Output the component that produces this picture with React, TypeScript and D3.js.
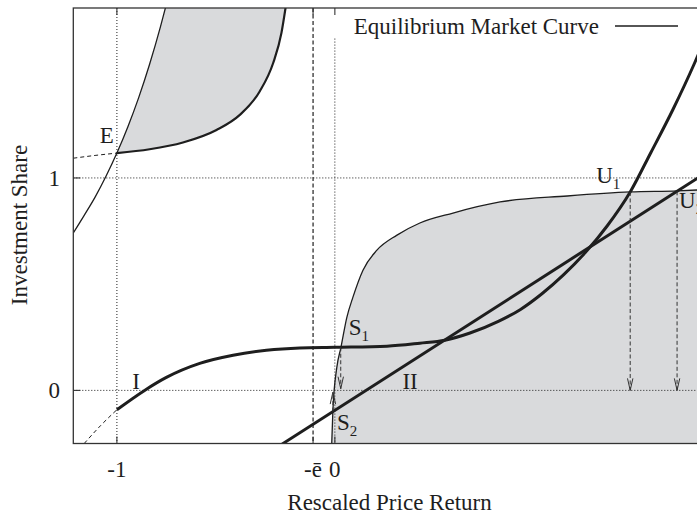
import React from "react";
import * as d3 from "d3";

// ---- data ----
const xTickValues = [-1, -0.1, 0];
const xTickLabels = ["-1", "-ē", "0"];
const yTickValues = [0, 1];
const yTickLabels = ["0", "1"];

// Equilibrium Market Curve, left branch
const emcLeftX = [-1.2, -1.15, -1.1, -1.05, -1.0, -0.95, -0.9, -0.85, -0.8, -0.777];
const emcLeftY = [0.741, 0.824, 0.91, 1.008, 1.117, 1.24, 1.378, 1.535, 1.712, 1.802];
// Equilibrium Market Curve, right branch
const emcRightX = [-0.016, -0.009, 0.009, 0.028, 0.055, 0.083, 0.129, 0.193, 0.285, 0.39, 0.542, 0.758, 1.066, 1.355, 1.571, 1.7];
const emcRightY = [-0.3, -0.094, 0.108, 0.203, 0.344, 0.439, 0.566, 0.66, 0.731, 0.788, 0.835, 0.887, 0.915, 0.934, 0.939, 0.945];
// upper curve through E
const upperX = [-1.0, -0.85, -0.697, -0.543, -0.436, -0.345, -0.283, -0.245, -0.226];
const upperY = [1.117, 1.135, 1.167, 1.226, 1.297, 1.407, 1.541, 1.683, 1.802];
const upperDashX = [-1.2, -1.1, -1.0];
const upperDashY = [1.093, 1.106, 1.117];
// investment function I
const curveIX = [-1.0, -0.873, -0.773, -0.62, -0.467, -0.314, -0.161, 0, 0.239, 0.39, 0.505, 0.62, 0.75, 0.85, 0.95, 1.05, 1.15, 1.25, 1.355, 1.45, 1.55, 1.65, 1.7];
const curveIY = [-0.091, 0, 0.061, 0.127, 0.165, 0.189, 0.2, 0.203, 0.208, 0.222, 0.236, 0.27, 0.325, 0.38, 0.455, 0.545, 0.65, 0.775, 0.934, 1.12, 1.32, 1.54, 1.66];
const curveIDashX = [-1.15, -1.075, -1.0];
const curveIDashY = [-0.25, -0.166, -0.091];
// investment function II (straight line)
const lineIIX = [-0.25, 1.7];
const lineIIY = [-0.258, 1.023];
// equilibrium points: S1, U1, U2, S2
const eqNames = ["S1", "U1", "U2", "S2"];
const eqX = [0.027, 1.355, 1.57, -0.009];
const eqY = [0.203, 0.934, 0.937, -0.1];
const arrowTipY = [0.008, 0, 0, -0.008];
const pointE = [-1.0, 1.117];
const eBar = -0.1;
const zeroLineTop = 1.656;

const W = 697;
const H = 516;
const L = 73.3, R = 705.4, T = 8, B = 443.5;
const FONT = "'Liberation Serif', 'Times New Roman', serif";
const INK = "#1e1e1e";
const GRAY = "#d9dadc";

export default function App() {
  const x = d3.scaleLinear().domain([-1.2, 1.7]).range([L, R]);
  const y = d3.scaleLinear().domain([-0.25, 1.8]).range([B, T]);
  const zip = (xs: number[], ys: number[]) => xs.map((v, i) => [v, ys[i]] as [number, number]);
  const line = d3.line<[number, number]>().x(d => x(d[0])).y(d => y(d[1])).curve(d3.curveMonotoneX);
  const straight = d3.line<[number, number]>().x(d => x(d[0])).y(d => y(d[1]));

  const emcLeft = zip(emcLeftX, emcLeftY);
  const emcRight = zip(emcRightX, emcRightY);
  const upper = zip(upperX, upperY);

  // upper shaded region: EMC left branch from E upward, then back down the upper curve
  const upLeft = emcLeft.filter(d => d[0] >= pointE[0]);
  const upperPoly = (() => {
    const a = line(upLeft)!;
    const b = line(upper.slice().reverse() as [number, number][])!;
    return a + "L" + x(upLeft[upLeft.length - 1][0]) + "," + (T - 5) + "L" + x(upper[upper.length - 1][0]) + "," + (T - 5) + "L" + b.slice(1) + "Z";
  })();

  const lowerPoly = (() => {
    const a = line(emcRight)!;
    return a + "L" + (R + 5) + "," + y(emcRight[emcRight.length - 1][1]) + "L" + (R + 5) + "," + (B + 5) + "L" + x(emcRight[0][0]) + "," + (B + 5) + "Z";
  })();

  const eqPx = eqNames.map((n, i) => ({ n, px: x(eqX[i]), py: y(eqY[i]), ty: y(arrowTipY[i]) }));

  const arrowHead = (px: number, tip: number, dir: number) =>
    `M${px - 2.7},${tip - dir * 12}L${px},${tip}L${px + 2.7},${tip - dir * 12}`;

  const ex = x(pointE[0]), ey = y(pointE[1]);

  return (
    <div style={{ position: "absolute", left: 0, top: 0 }}>
      <svg width={W} height={H} style={{ display: "block", background: "#fff" }} fontFamily={FONT}>
        <defs>
          <clipPath id="plot">
            <rect x={L} y={T} width={R - L} height={B - T} />
          </clipPath>
        </defs>
        <g clipPath="url(#plot)">
          <path d={upperPoly} fill={GRAY} stroke="none" />
          <path d={lowerPoly} fill={GRAY} stroke="none" />

          {/* grid / reference lines */}
          <line x1={L} x2={R} y1={y(0)} y2={y(0)} stroke={INK} strokeWidth={1} strokeDasharray="1,2" />
          <line x1={L} x2={R} y1={y(1)} y2={y(1)} stroke={INK} strokeWidth={1} strokeDasharray="1,2" />
          <line x1={x(-1)} x2={x(-1)} y1={T} y2={B} stroke={INK} strokeWidth={1} strokeDasharray="1,2" />
          <line x1={x(0)} x2={x(0)} y1={y(zeroLineTop)} y2={B} stroke={INK} strokeWidth={1} strokeDasharray="1,2" />
          <line x1={x(eBar)} x2={x(eBar)} y1={T} y2={B} stroke={INK} strokeWidth={1.2} strokeDasharray="4,2.5" />

          {/* EMC */}
          <path d={line(emcLeft)!} fill="none" stroke={INK} strokeWidth={1.3} />
          <path d={line(emcRight)!} fill="none" stroke={INK} strokeWidth={1.3} />
          {/* upper curve */}
          <path d={line(upper)!} fill="none" stroke={INK} strokeWidth={2.2} />
          <path d={line(zip(upperDashX, upperDashY))!} fill="none" stroke={INK} strokeWidth={1} strokeDasharray="4,3" />
          {/* I */}
          <path d={line(zip(curveIX, curveIY))!} fill="none" stroke={INK} strokeWidth={3} />
          <path d={line(zip(curveIDashX, curveIDashY))!} fill="none" stroke={INK} strokeWidth={1} strokeDasharray="4,3" />
          {/* II */}
          <path d={straight(zip(lineIIX, lineIIY))!} fill="none" stroke={INK} strokeWidth={3} />

          {/* arrows */}
          {eqPx.map((e, i) => {
            const dir = e.ty > e.py ? 1 : -1;
            return (
              <g key={i} stroke="#333" strokeWidth={1} fill="none">
                <line x1={e.px} x2={e.px} y1={e.py} y2={e.ty} strokeDasharray="4,2.5" />
                <path d={arrowHead(e.px, e.ty, dir)} />
              </g>
            );
          })}
        </g>

        {/* frame */}
        <rect x={L} y={T} width={R - L} height={B - T} fill="none" stroke="#333" strokeWidth={1.3} />
        {/* ticks */}
        {xTickValues.map((v, i) => (
          <g key={"xt" + i} stroke="#333" strokeWidth={1.1}>
            <line x1={x(v)} x2={x(v)} y1={B} y2={B - 7} />
            <line x1={x(v)} x2={x(v)} y1={T} y2={T + 7} />
          </g>
        ))}
        {yTickValues.map((v, i) => (
          <line key={"yt" + i} x1={L} x2={L + 7} y1={y(v)} y2={y(v)} stroke="#333" strokeWidth={1.1} />
        ))}

        {/* tick labels */}
        {xTickValues.map((v, i) => (
          <text key={"xl" + i} x={x(v)} y={477} textAnchor="middle" fontSize={23} fill={INK}>
            {xTickLabels[i]}
          </text>
        ))}
        {yTickValues.map((v, i) => (
          <text key={"yl" + i} x={60} y={y(v) + 8} textAnchor="end" fontSize={23} fill={INK}>
            {yTickLabels[i]}
          </text>
        ))}

        {/* axis titles */}
        <text x={389.5} y={510} textAnchor="middle" fontSize={23} fill={INK}>Rescaled Price Return</text>
        <text transform="translate(27,225) rotate(-90)" textAnchor="middle" fontSize={23} fill={INK}>Investment Share</text>

        {/* legend */}
        <text x={599} y={34} textAnchor="end" fontSize={23} fill={INK}>Equilibrium Market Curve</text>
        <line x1={615} x2={678} y1={26} y2={26} stroke={INK} strokeWidth={1.3} />

        {/* point labels */}
        <text x={ex - 3} y={ey - 10} textAnchor="end" fontSize={23} fill={INK}>E</text>
        <text x={x(-0.93)} y={y(0) - 1} fontSize={23} fill={INK}>I</text>
        <text x={x(0.31)} y={y(0) - 1} fontSize={23} fill={INK}>II</text>
        {eqPx.map((e, i) => {
          const off = [[8, -12], [-34, -9], [2, 17], [4, 18]][i];
          return (
            <text key={"el" + i} x={e.px + off[0]} y={e.py + off[1]} fontSize={23} fill={INK}>
              {e.n[0]}
              <tspan fontSize={15} dy={6}>{e.n[1]}</tspan>
            </text>
          );
        })}
      </svg>
    </div>
  );
}
